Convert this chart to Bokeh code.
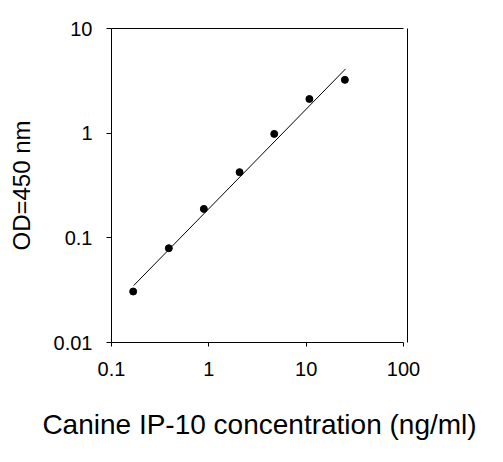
from bokeh.plotting import figure
from bokeh.models import LogAxis, FixedTicker, Range1d
from bokeh.embed import file_html
from bokeh.resources import INLINE

# Data
conc = [0.167, 0.388, 0.889, 2.07, 4.7, 10.8, 25.0]
od = [0.0307, 0.0796, 0.189, 0.424, 0.984, 2.12, 3.23]
fit_x = [0.169, 25.4]
fit_y = [0.035, 4.11]
x_ticks = [0.1, 1, 10, 100]
y_ticks = [0.01, 0.1, 1, 10]
x_tick_labels = {0.1: "0.1", 1: "1", 10: "10", 100: "100"}
y_tick_labels = {0.01: "0.01", 0.1: "0.1", 1: "1", 10: "10"}

FONT = "Liberation Sans"

p = figure(width=495, height=454, x_axis_type="log", y_axis_type="log",
           x_range=Range1d(0.1, 110), y_range=Range1d(0.01, 10),
           output_backend="svg", toolbar_location=None,
           min_border_left=111, min_border_right=88,
           min_border_top=28, min_border_bottom=112)
p.outline_line_color = None
p.xgrid.visible = False
p.ygrid.visible = False
p.background_fill_color = "white"
p.border_fill_color = "white"

xa = p.xaxis[0]
xa.ticker = FixedTicker(ticks=x_ticks)
xa.major_label_overrides = x_tick_labels
xa.bounds = (0.1, 100)
xa.axis_label = "Canine IP-10 concentration (ng/ml)"
xa.axis_label_text_font = FONT
xa.axis_label_text_font_size = "28px"
xa.axis_label_text_font_style = "normal"
xa.axis_label_text_color = "black"
xa.axis_label_standoff = 30
xa.major_label_text_font = FONT
xa.major_label_text_font_size = "20px"
xa.major_label_text_color = "black"
xa.major_label_standoff = 15
xa.major_tick_out = 4
xa.major_tick_in = 0
xa.minor_tick_line_color = None
xa.axis_line_color = "black"
xa.major_tick_line_color = "black"

ya = p.yaxis[0]
ya.ticker = FixedTicker(ticks=y_ticks)
ya.major_label_overrides = y_tick_labels
ya.axis_label = "OD=450 nm"
ya.axis_label_text_font = FONT
ya.axis_label_text_font_size = "24px"
ya.axis_label_text_font_style = "normal"
ya.axis_label_text_color = "black"
ya.axis_label_standoff = 16
ya.major_label_text_font = FONT
ya.major_label_text_font_size = "20px"
ya.major_label_text_color = "black"
ya.major_label_standoff = 14
ya.major_tick_out = 5
ya.major_tick_in = 0
ya.minor_tick_line_color = None
ya.axis_line_color = "black"
ya.major_tick_line_color = "black"

top = LogAxis(ticker=FixedTicker(ticks=[]), bounds=(0.1, 100),
              major_label_text_font_size="0px", minor_tick_line_color=None,
              major_tick_line_color=None, axis_line_color="black")
p.add_layout(top, "above")
right = LogAxis(ticker=FixedTicker(ticks=[]),
                major_label_text_font_size="0px", minor_tick_line_color=None,
                major_tick_line_color=None, axis_line_color="black")
p.add_layout(right, "right")

p.line(fit_x, fit_y, line_color="black", line_width=1)
p.scatter(conc, od, size=7, fill_color="black", line_color="black")

open("out.html", "w").write(file_html(p, INLINE))
